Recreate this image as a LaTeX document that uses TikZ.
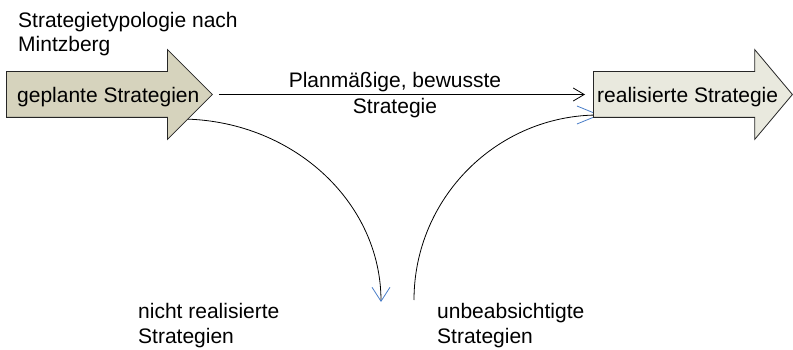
\documentclass[tikz,border=0pt]{standalone}
\usepackage{fontspec}
\setmainfont{Liberation Sans}
\usetikzlibrary{arrows.meta,shapes.arrows}
\definecolor{planfill}{RGB}{214,211,189}
\definecolor{realfill}{RGB}{233,233,222}
\definecolor{tipblue}{RGB}{74,126,200}
\tikzset{
  lbl/.style={inner sep=0pt, font=\fontsize{21}{24}\selectfont},
  bigarrow/.style={single arrow, draw=black!85, line width=0.8pt, inner sep=0pt,
    text height=45pt, text depth=0pt, text width=0pt,
    single arrow head extend=22pt, anchor=tail},
  flow/.style={line width=0.8pt, black},
  bluetip/.style={-{Straight Barb[tipblue, length=14pt, width=18pt, line width=0.8pt]}},
}
\begin{document}
\begin{tikzpicture}[x=1pt,y=-1pt]
\useasboundingbox (0,0) rectangle (793,350);
% connector end points
\coordinate (s1) at (180,119);
\coordinate (e1) at (381,302);
\coordinate (s2) at (414,300);
\coordinate (e2) at (600,115);
% curves (behind the arrows)
\draw[flow, bluetip] (s1) .. controls (291,119) and (381,201) .. (e1);
\draw[flow, -{Straight Barb[tipblue, length=22pt, width=18pt, line width=0.8pt]}] (s2) .. controls (414,198) and (497,115) .. (e2);
% big arrows
\node[bigarrow, fill=planfill, minimum height=206pt] (plan) at (6,94.5) {};
\node[bigarrow, fill=realfill, minimum height=199pt, single arrow tip angle=100] (real) at (593,94.5) {};
\node[lbl, anchor=base west] (plantxt) at (17,103) {geplante Strategien};
\node[lbl, anchor=base west] (realtxt) at (597,103) {realisierte Strategie};
% straight connector
\draw[flow, -{Straight Barb[length=11pt, width=13pt, line width=0.8pt]}, shorten <=6pt, shorten >=8pt] (plan.tip) -- (real.tail);
% labels
\node[lbl, align=left, anchor=north west, font=\fontsize{21}{24}\selectfont] (title) at (18,11.7) {Strategietypologie nach\\Mintzberg};
\node[lbl, align=center, anchor=north, font=\fontsize{21}{26}\selectfont] (mid) at (395,71.7) {Planmäßige, bewusste\\Strategie};
\node[lbl, align=left, anchor=north west, font=\fontsize{21}{25}\selectfont] (notreal) at (138,302.7) {nicht realisierte\\Strategien};
\node[lbl, align=left, anchor=north west, font=\fontsize{21}{25}\selectfont] (unint) at (437,302.7) {unbeabsichtigte\\Strategien};
\end{tikzpicture}
\end{document}
